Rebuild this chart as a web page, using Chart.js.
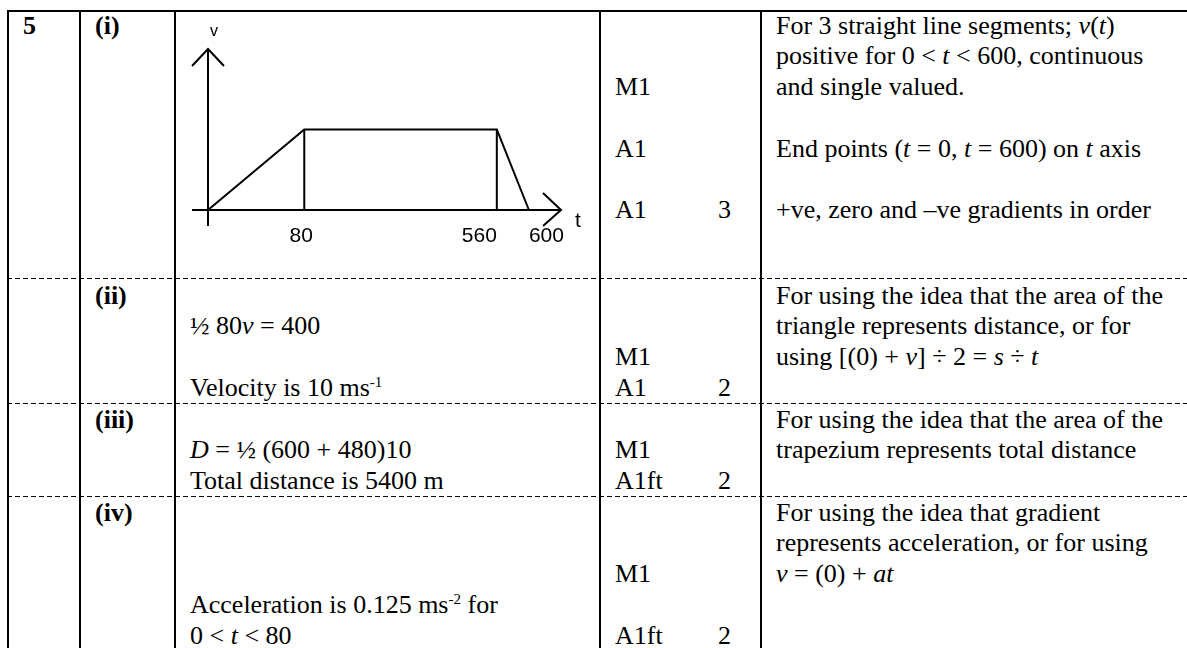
<!DOCTYPE html>
<html>
<head>
<meta charset="utf-8">
<script src="https://cdn.jsdelivr.net/npm/chart.js@4.4.1/dist/chart.umd.min.js"></script>
<style>
html,body{margin:0;padding:0;background:#fff;width:1187px;height:648px;overflow:hidden;}
#page{position:relative;width:1187px;height:648px;font-family:"Liberation Serif","Times New Roman",serif;font-size:26px;color:#000;}
.t{position:absolute;white-space:nowrap;line-height:30px;}
.b{font-weight:bold;}
.vl{position:absolute;width:2px;background:#000;top:10px;height:638px;}
.hl{position:absolute;left:7px;width:1180px;height:2px;background:#000;}
.dl{position:absolute;left:7px;width:1180px;height:1.5px;background:repeating-linear-gradient(to right,#000 0 5px,transparent 5px 8px);}
sup{font-size:15px;line-height:0;vertical-align:9px;}
#graph{position:absolute;left:176px;top:12px;}
</style>
</head>
<body>
<div id="page">
  <canvas id="graph" width="423" height="265"></canvas>
</div>
<script>
// ---- chart data (sketch of v against t, not to scale) ----
const tCategories = ['0', '', '', '80', '', '', '', '', '', '560', '600', ''];
const tPoints = ['0', '80', '560', '600'];
const vPoints = [0, 10, 10, 0];
const vAxisMax = 20;
const tickLabels = ['80', '560', '600'];
const tickAlign = ['center', 'right', 'left'];
const axisNames = ['v', 't'];

// ---- table text ----
const questionNo = '5';
const partLabels = ['(i)', '(ii)', '(iii)', '(iv)'];
const rowFirstLine = [27, 297, 421, 514];
const LINE = 30.8;
const COL = {num: 23, part: 95, work: 190, mark: 615, total: 718, note: 776};

const workLines = [
  [],
  [[1, '½ 80<i>v</i> = 400'], [3, 'Velocity is 10 ms<sup>-1</sup>']],
  [[1, '<i>D</i> = ½ (600 + 480)10'], [2, 'Total distance is 5400 m']],
  [[3, 'Acceleration is 0.125 ms<sup>-2</sup> for'], [4, '0 &lt; <i>t</i> &lt; 80']]
];
const markLines = [
  [[2, 'M1'], [4, 'A1'], [6, 'A1', '3']],
  [[2, 'M1'], [3, 'A1', '2']],
  [[1, 'M1'], [2, 'A1ft', '2']],
  [[2, 'M1'], [4, 'A1ft', '2']]
];
const noteLines = [
  [[0, 'For 3 straight line segments; <i>v</i>(<i>t</i>)'],
   [1, 'positive for 0 &lt; <i>t</i> &lt; 600, continuous'],
   [2, 'and single valued.'],
   [4, 'End points (<i>t</i> = 0, <i>t</i> = 600) on <i>t</i> axis'],
   [6, '+ve, zero and –ve gradients in order']],
  [[0, 'For using the idea that the area of the'],
   [1, 'triangle represents distance, or for'],
   [2, 'using [(0) + <i>v</i>] ÷ 2 = <i>s</i> ÷ <i>t</i>']],
  [[0, 'For using the idea that the area of the'],
   [1, 'trapezium represents total distance']],
  [[0, 'For using the idea that gradient'],
   [1, 'represents acceleration, or for using'],
   [2, '<i>v</i> = (0) + <i>at</i>']]
];

const page = document.getElementById('page');
function put(x, row, idx, html, cls) {
  const d = document.createElement('div');
  d.className = 't' + (cls ? ' ' + cls : '');
  d.style.left = x + 'px';
  d.style.top = (rowFirstLine[row] + idx * LINE - 16.5) + 'px';
  d.innerHTML = html;
  page.appendChild(d);
}
function line(cls, prop, val) {
  const d = document.createElement('div');
  d.className = cls;
  d.style[prop] = val + 'px';
  page.appendChild(d);
}
// rules
line('hl', 'top', 10);
[7, 79, 174, 599, 760].forEach(x => line('vl', 'left', x));
[277.5, 402.5, 495.5].forEach(y => line('dl', 'top', y));

put(COL.num, 0, 0, questionNo, 'b');
partLabels.forEach((p, r) => put(COL.part, r, 0, p, 'b'));
workLines.forEach((rows, r) => rows.forEach(([i, h]) => put(COL.work, r, i, h)));
markLines.forEach((rows, r) => rows.forEach(([i, m, tot]) => {
  put(COL.mark, r, i, m);
  if (tot) put(COL.total, r, i, tot);
}));
noteLines.forEach((rows, r) => rows.forEach(([i, h]) => put(COL.note, r, i, h)));

// ---- chart ----
const sketchAxes = {
  id: 'sketchAxes',
  afterDatasetsDraw(chart) {
    const {ctx, chartArea} = chart;
    const xs = chart.scales.x, ys = chart.scales.y;
    const x0 = xs.getPixelForValue(0);
    const y0 = ys.getPixelForValue(0);
    const top = chartArea.top, right = chartArea.right;
    ctx.save();
    ctx.strokeStyle = '#000';
    ctx.lineWidth = 2;
    ctx.beginPath();
    ctx.moveTo(x0, y0 + 16); ctx.lineTo(x0, top);
    ctx.moveTo(x0 - 16, y0); ctx.lineTo(right, y0);
    ctx.moveTo(x0 - 16, top + 17); ctx.lineTo(x0, top); ctx.lineTo(x0 + 16, top + 17);
    ctx.moveTo(right - 18, y0 - 17); ctx.lineTo(right, y0); ctx.lineTo(right - 18, y0 + 16);
    ctx.stroke();
    ctx.fillStyle = '#000';
    ctx.textBaseline = 'alphabetic';
    ctx.font = '21px "Liberation Sans", Arial, sans-serif';
    tickLabels.forEach((lab, i) => {
      ctx.textAlign = tickAlign[i];
      const off = tickAlign[i] === 'center' ? -3 : 0;
      ctx.fillText(lab, xs.getPixelForValue(tCategories.indexOf(lab)) + off, y0 + 32);
    });
    ctx.textAlign = 'left';
    ctx.fillText(axisNames[1], right + 14, y0 + 17);
    ctx.font = '16px "Liberation Sans", Arial, sans-serif';
    ctx.textAlign = 'center';
    ctx.fillText(axisNames[0], x0 + 6, top - 13);
    ctx.restore();
  }
};

const graphData = tPoints.map((t, i) => ({x: t, y: vPoints[i]}));
const dropLines = tPoints.slice(1, -1).map((t, i) => ({
  data: [{x: t, y: 0}, {x: t, y: vPoints[i + 1]}]
}));
const baseDs = {borderColor: '#000', borderWidth: 2, pointRadius: 0, tension: 0, fill: false, clip: false, borderJoinStyle: 'miter'};

new Chart(document.getElementById('graph'), {
  type: 'line',
  data: {
    labels: tCategories,
    datasets: [Object.assign({data: graphData}, baseDs)].concat(dropLines.map(d => Object.assign(d, baseDs)))
  },
  options: {
    responsive: false,
    animation: false,
    devicePixelRatio: 1,
    layout: {padding: {left: 32, right: 38, top: 37, bottom: 67}},
    plugins: {legend: {display: false}, tooltip: {enabled: false}},
    events: [],
    scales: {
      x: {type: 'category', display: false, offset: false},
      y: {type: 'linear', display: false, min: 0, max: vAxisMax}
    }
  },
  plugins: [sketchAxes]
});
</script>
</body>
</html>
